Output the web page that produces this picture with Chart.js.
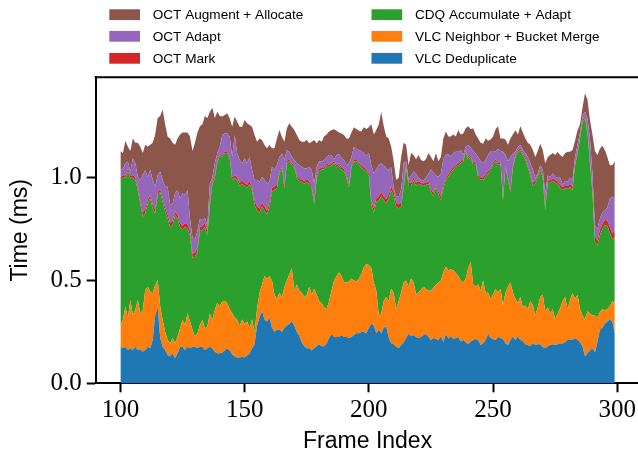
<!DOCTYPE html>
<html>
<head>
<meta charset="utf-8">
<script src="https://cdn.jsdelivr.net/npm/chart.js@4.4.1/dist/chart.umd.min.js"></script>
<style>
  html, body { margin: 0; padding: 0; background: #fff; overflow: hidden; }
  #wrap { position: relative; width: 646px; height: 461px; }
</style>
</head>
<body>
<div id="wrap"><canvas id="stackChart"></canvas></div>
<script>
// frame indices 100..299
const frames = [];
for (let f = 100; f < 300; f++) frames.push(f);

const seriesNames = [
    'VLC Deduplicate',
    'VLC Neighbor + Bucket Merge',
    'CDQ Accumulate + Adapt',
    'OCT Mark',
    'OCT Adapt',
    'OCT Augment + Allocate'
];
const seriesColors = ['#1f77b4', '#ff7f0e', '#2ca02c', '#d62728', '#9467bd', '#8c564b'];

const xTickValues = [100, 150, 200, 250, 300];
const yTickValues = [0, 0.5, 1.0];

// times in ms, one value per frame
const vlcDedup = [
    0.178, 0.17, 0.178, 0.162, 0.17, 0.162, 0.178, 0.162, 0.165, 0.154,
    0.162, 0.178, 0.17, 0.21, 0.33, 0.37, 0.22, 0.178, 0.162, 0.138,
    0.13, 0.146, 0.122, 0.146, 0.178, 0.178, 0.162, 0.178, 0.17, 0.178,
    0.178, 0.17, 0.178, 0.178, 0.162, 0.17, 0.178, 0.17, 0.154, 0.146,
    0.146, 0.15, 0.16, 0.17, 0.16, 0.14, 0.13, 0.125, 0.125, 0.13,
    0.125, 0.135, 0.145, 0.17, 0.19, 0.28, 0.32, 0.35, 0.31, 0.30,
    0.32, 0.27, 0.25, 0.26, 0.26, 0.25, 0.27, 0.28, 0.29, 0.30,
    0.28, 0.25, 0.23, 0.20, 0.18, 0.17, 0.17, 0.16, 0.17, 0.18,
    0.19, 0.18, 0.18, 0.195, 0.22, 0.24, 0.225, 0.225, 0.225, 0.235,
    0.225, 0.225, 0.22, 0.225, 0.235, 0.243, 0.243, 0.25, 0.25, 0.243,
    0.27, 0.29, 0.28, 0.243, 0.26, 0.243, 0.27, 0.276, 0.22, 0.195,
    0.19, 0.178, 0.17, 0.185, 0.20, 0.22, 0.24, 0.23, 0.235, 0.225,
    0.22, 0.225, 0.235, 0.24, 0.225, 0.211, 0.22, 0.215, 0.21, 0.227,
    0.20, 0.24, 0.218, 0.227, 0.215, 0.22, 0.225, 0.203, 0.21, 0.20,
    0.19, 0.203, 0.21, 0.215, 0.21, 0.186, 0.195, 0.21, 0.24, 0.22,
    0.215, 0.21, 0.225, 0.22, 0.215, 0.195, 0.186, 0.21, 0.227, 0.21,
    0.227, 0.21, 0.205, 0.19, 0.186, 0.18, 0.194, 0.186, 0.19, 0.19,
    0.175, 0.17, 0.18, 0.186, 0.19, 0.186, 0.19, 0.194, 0.194, 0.20,
    0.21, 0.21, 0.21, 0.22, 0.21, 0.20, 0.18, 0.13, 0.146, 0.16,
    0.17, 0.15, 0.20, 0.26, 0.27, 0.29, 0.30, 0.31, 0.30, 0.243
];
const vlcNeighbor = [
    0.106, 0.138, 0.195, 0.154, 0.235, 0.17, 0.179, 0.243, 0.175, 0.203,
    0.292, 0.292, 0.276, 0.228, 0.148, 0.132, 0.153, 0.13, 0.088, 0.072,
    0.064, 0.074, 0.072, 0.081, 0.089, 0.13, 0.122, 0.162, 0.13, 0.082,
    0.049, 0.073, 0.106, 0.13, 0.105, 0.106, 0.162, 0.138, 0.203, 0.244,
    0.227, 0.25, 0.24, 0.22, 0.20, 0.20, 0.19, 0.185, 0.155, 0.18,
    0.165, 0.165, 0.125, 0.14, 0.06, 0.08, 0.12, 0.13, 0.21, 0.21,
    0.20, 0.23, 0.18, 0.15, 0.18, 0.17, 0.20, 0.22, 0.24, 0.26,
    0.17, 0.23, 0.22, 0.24, 0.24, 0.26, 0.30, 0.27, 0.29, 0.25,
    0.21, 0.21, 0.19, 0.165, 0.18, 0.21, 0.275, 0.295, 0.315, 0.285,
    0.265, 0.265, 0.275, 0.285, 0.265, 0.252, 0.267, 0.28, 0.315, 0.337,
    0.305, 0.27, 0.21, 0.207, 0.07, 0.097, 0.13, 0.144, 0.18, 0.265,
    0.25, 0.182, 0.23, 0.255, 0.29, 0.28, 0.23, 0.28, 0.255, 0.205,
    0.22, 0.23, 0.235, 0.22, 0.225, 0.239, 0.245, 0.265, 0.28, 0.273,
    0.34, 0.327, 0.332, 0.328, 0.335, 0.315, 0.295, 0.297, 0.28, 0.31,
    0.37, 0.387, 0.27, 0.255, 0.27, 0.264, 0.305, 0.23, 0.20, 0.19,
    0.215, 0.25, 0.215, 0.24, 0.165, 0.245, 0.284, 0.28, 0.213, 0.20,
    0.163, 0.21, 0.165, 0.19, 0.174, 0.22, 0.186, 0.144, 0.18, 0.23,
    0.255, 0.18, 0.19, 0.154, 0.17, 0.124, 0.15, 0.171, 0.206, 0.22,
    0.15, 0.195, 0.23, 0.19, 0.22, 0.16, 0.15, 0.18, 0.204, 0.18,
    0.16, 0.18, 0.12, 0.085, 0.09, 0.065, 0.06, 0.065, 0.10, 0.147
];
const cdqAccumulate = [
    0.706, 0.692, 0.627, 0.714, 0.595, 0.668, 0.633, 0.535, 0.535, 0.453,
    0.372, 0.405, 0.454, 0.412, 0.348, 0.414, 0.557, 0.575, 0.585, 0.592,
    0.566, 0.55, 0.624, 0.573, 0.493, 0.437, 0.476, 0.413, 0.42, 0.35,
    0.388, 0.397, 0.456, 0.437, 0.493, 0.444, 0.52, 0.662, 0.643, 0.68,
    0.737, 0.70, 0.72, 0.73, 0.73, 0.65, 0.68, 0.68, 0.68, 0.66,
    0.67, 0.65, 0.70, 0.63, 0.62, 0.48, 0.39, 0.38, 0.32, 0.31,
    0.34, 0.43, 0.51, 0.54, 0.58, 0.63, 0.48, 0.57, 0.55, 0.50,
    0.60, 0.52, 0.53, 0.54, 0.55, 0.55, 0.50, 0.52, 0.41, 0.57,
    0.63, 0.65, 0.67, 0.70, 0.65, 0.61, 0.57, 0.53, 0.52, 0.52,
    0.54, 0.51, 0.455, 0.54, 0.58, 0.585, 0.55, 0.52, 0.475, 0.45,
    0.435, 0.31, 0.34, 0.43, 0.56, 0.57, 0.49, 0.455, 0.50, 0.48,
    0.47, 0.50, 0.45, 0.42, 0.46, 0.55, 0.49, 0.45, 0.50, 0.53,
    0.53, 0.51, 0.49, 0.505, 0.52, 0.48, 0.445, 0.475, 0.43, 0.39,
    0.41, 0.423, 0.455, 0.47, 0.49, 0.515, 0.54, 0.57, 0.59, 0.615,
    0.525, 0.51, 0.58, 0.60, 0.52, 0.54, 0.49, 0.565, 0.58, 0.625,
    0.635, 0.62, 0.62, 0.61, 0.51, 0.61, 0.52, 0.44, 0.61, 0.69,
    0.736, 0.715, 0.74, 0.71, 0.69, 0.61, 0.58, 0.64, 0.63, 0.62,
    0.57, 0.49, 0.605, 0.635, 0.625, 0.665, 0.63, 0.585, 0.54, 0.53,
    0.585, 0.55, 0.50, 0.65, 0.685, 0.83, 0.94, 0.98, 0.87, 0.73,
    0.60, 0.36, 0.35, 0.375, 0.39, 0.415, 0.405, 0.355, 0.30, 0.32
];
const octMark = [
    0.012, 0.012, 0.012, 0.012, 0.012, 0.012, 0.012, 0.015, 0.018, 0.02,
    0.02, 0.018, 0.015, 0.018, 0.02, 0.015, 0.015, 0.018, 0.02, 0.02,
    0.02, 0.02, 0.018, 0.018, 0.02, 0.02, 0.02, 0.02, 0.02, 0.02,
    0.02, 0.02, 0.02, 0.02, 0.02, 0.02, 0.018, 0.015, 0.012, 0.01,
    0.008, 0.008, 0.008, 0.008, 0.01, 0.012, 0.012, 0.012, 0.015, 0.015,
    0.015, 0.015, 0.015, 0.015, 0.018, 0.02, 0.02, 0.02, 0.02, 0.02,
    0.02, 0.018, 0.018, 0.015, 0.012, 0.012, 0.015, 0.01, 0.01, 0.01,
    0.01, 0.012, 0.012, 0.012, 0.012, 0.012, 0.012, 0.012, 0.018, 0.012,
    0.012, 0.01, 0.01, 0.01, 0.01, 0.01, 0.01, 0.01, 0.01, 0.012,
    0.012, 0.012, 0.015, 0.01, 0.01, 0.01, 0.01, 0.01, 0.01, 0.01,
    0.012, 0.02, 0.02, 0.02, 0.02, 0.02, 0.02, 0.02, 0.02, 0.018,
    0.02, 0.02, 0.02, 0.02, 0.015, 0.01, 0.015, 0.015, 0.012, 0.015,
    0.012, 0.012, 0.012, 0.012, 0.012, 0.015, 0.015, 0.012, 0.015, 0.018,
    0.015, 0.012, 0.012, 0.012, 0.01, 0.01, 0.01, 0.01, 0.01, 0.008,
    0.01, 0.01, 0.01, 0.01, 0.012, 0.012, 0.012, 0.012, 0.012, 0.01,
    0.01, 0.01, 0.01, 0.01, 0.015, 0.01, 0.012, 0.015, 0.01, 0.01,
    0.008, 0.008, 0.008, 0.01, 0.01, 0.012, 0.015, 0.015, 0.012, 0.01,
    0.012, 0.02, 0.012, 0.012, 0.012, 0.012, 0.012, 0.015, 0.015, 0.015,
    0.015, 0.015, 0.015, 0.01, 0.01, 0.01, 0.01, 0.008, 0.01, 0.015,
    0.02, 0.025, 0.025, 0.025, 0.025, 0.025, 0.025, 0.03, 0.03, 0.03
];
const octAdapt = [
    0.038, 0.033, 0.058, 0.036, 0.018, 0.082, 0.068, 0.05, 0.096, 0.183,
    0.191, 0.112, 0.122, 0.121, 0.11, 0.082, 0.085, 0.088, 0.101, 0.134,
    0.087, 0.085, 0.088, 0.122, 0.12, 0.159, 0.136, 0.167, 0.06, 0.08,
    0.065, 0.08, 0.04, 0.029, 0.022, 0.03, 0.092, 0.015, 0.058, 0.04,
    0.032, 0.099, 0.087, 0.087, 0.099, 0.098, 0.195, 0.116, 0.111, 0.085,
    0.119, 0.105, 0.115, 0.082, 0.101, 0.129, 0.13, 0.125, 0.129, 0.132,
    0.10, 0.105, 0.079, 0.097, 0.068, 0.056, 0.121, 0.054, 0.036, 0.03,
    0.026, 0.058, 0.07, 0.061, 0.063, 0.053, 0.071, 0.075, 0.084, 0.041,
    0.036, 0.028, 0.036, 0.03, 0.05, 0.04, 0.01, 0.05, 0.045, 0.043,
    0.044, 0.048, 0.105, 0.04, 0.06, 0.05, 0.065, 0.07, 0.07, 0.065,
    0.098, 0.17, 0.17, 0.14, 0.15, 0.14, 0.15, 0.15, 0.12, 0.092,
    0.02, 0.03, 0.04, 0.06, 0.105, 0.02, 0.015, 0.035, 0.028, 0.045,
    0.018, 0.013, 0.013, 0.023, 0.038, 0.095, 0.10, 0.043, 0.07, 0.112,
    0.125, 0.108, 0.098, 0.063, 0.07, 0.066, 0.056, 0.055, 0.02, 0.017,
    0.065, 0.035, 0.06, 0.038, 0.088, 0.078, 0.068, 0.069, 0.078, 0.085,
    0.055, 0.036, 0.07, 0.05, 0.221, 0.05, 0.078, 0.155, 0.055, 0.016,
    0.016, 0.017, 0.017, 0.02, 0.04, 0.048, 0.065, 0.015, 0.008, 0.01,
    0.028, 0.06, 0.023, 0.018, 0.023, 0.018, 0.018, 0.035, 0.01, 0.02,
    0.02, 0.03, 0.035, 0.03, 0.035, 0.02, 0.02, 0.022, 0.06, 0.105,
    0.07, 0.055, 0.055, 0.055, 0.055, 0.045, 0.065, 0.14, 0.175, 0.16
];
const octAugment = [
    0.09, 0.075, 0.11, 0.072, 0.10, 0.096, 0.10, 0.165, 0.161, 0.107,
    0.123, 0.145, 0.123, 0.181, 0.254, 0.277, 0.27, 0.341, 0.304, 0.244,
    0.323, 0.295, 0.236, 0.25, 0.31, 0.296, 0.304, 0.28, 0.40, 0.42,
    0.47, 0.48, 0.45, 0.466, 0.498, 0.52, 0.35, 0.34, 0.22, 0.20,
    0.15, 0.09, 0.09, 0.098, 0.089, 0.148, 0.09, 0.154, 0.162, 0.178,
    0.186, 0.194, 0.156, 0.211, 0.218, 0.186, 0.211, 0.178, 0.17, 0.171,
    0.179, 0.09, 0.106, 0.129, 0.132, 0.081, 0.089, 0.106, 0.138, 0.148,
    0.146, 0.137, 0.121, 0.122, 0.13, 0.138, 0.114, 0.138, 0.211, 0.114,
    0.105, 0.097, 0.114, 0.11, 0.115, 0.122, 0.145, 0.118, 0.105, 0.12,
    0.121, 0.13, 0.12, 0.12, 0.095, 0.096, 0.093, 0.094, 0.125, 0.131,
    0.125, 0.20, 0.19, 0.192, 0.20, 0.25, 0.19, 0.155, 0.15, 0.10,
    0.13, 0.08, 0.09, 0.16, 0.10, 0.08, 0.07, 0.11, 0.08, 0.07,
    0.11, 0.096, 0.095, 0.09, 0.10, 0.06, 0.055, 0.11, 0.075, 0.08,
    0.10, 0.114, 0.085, 0.10, 0.09, 0.074, 0.104, 0.075, 0.105, 0.09,
    0.09, 0.09, 0.11, 0.092, 0.09, 0.09, 0.095, 0.104, 0.07, 0.055,
    0.07, 0.109, 0.11, 0.06, 0.064, 0.075, 0.08, 0.09, 0.095, 0.104,
    0.06, 0.09, 0.085, 0.07, 0.07, 0.09, 0.095, 0.10, 0.11, 0.105,
    0.095, 0.15, 0.09, 0.105, 0.10, 0.105, 0.125, 0.11, 0.135, 0.135,
    0.146, 0.126, 0.145, 0.08, 0.07, 0.04, 0.04, 0.09, 0.09, 0.09,
    0.19, 0.36, 0.36, 0.34, 0.325, 0.295, 0.245, 0.16, 0.155, 0.18
];

const seriesValues = [vlcDedup, vlcNeighbor, cdqAccumulate, octMark, octAdapt, octAugment];

const datasets = seriesValues.map((vals, i) => ({
    label: seriesNames[i],
    data: vals.map((v, j) => ({ x: frames[j], y: v })),
    backgroundColor: seriesColors[i],
    borderColor: 'rgba(0,0,0,0)',
    borderWidth: 0,
    pointRadius: 0,
    fill: i === 0 ? 'origin' : '-1'
}));

// matplotlib-style two column legend plus the top spine
const legendColumns = [[5, 4, 3], [2, 1, 0]];
const frameAndLegend = {
    id: 'frameAndLegend',
    afterDraw(chart) {
        const ctx = chart.ctx;
        const area = chart.chartArea;
        ctx.save();
        ctx.strokeStyle = '#000';
        ctx.lineWidth = 2;
        ctx.beginPath();
        ctx.moveTo(area.left - 1, area.top);
        ctx.lineTo(area.right + 1, area.top);
        ctx.lineTo(area.right, area.bottom);
        ctx.stroke();

        const colX = [109.3, 371.5];
        const rowY = [14.7, 36.3, 58.3];
        ctx.font = '13.6px "Liberation Sans", Arial, sans-serif';
        ctx.textBaseline = 'middle';
        ctx.fillStyle = '#000';
        legendColumns.forEach((col, c) => {
            col.forEach((idx, r) => {
                ctx.fillStyle = seriesColors[idx];
                ctx.fillRect(colX[c], rowY[r] - 5.4, 30.7, 10.8);
                ctx.fillStyle = '#000';
                ctx.fillText(seriesNames[idx], colX[c] + 43.4, rowY[r] + 0.5);
            });
        });
        ctx.restore();
    }
};

const tickFont = { family: '"Liberation Serif", "Times New Roman", serif', size: 25 };
const titleFont = { family: '"Liberation Sans", Arial, sans-serif', size: 23 };

new Chart(document.getElementById('stackChart'), {
    type: 'line',
    data: { datasets: datasets },
    options: {
        responsive: true,
        maintainAspectRatio: false,
        animation: false,
        devicePixelRatio: 1,
        layout: { padding: { left: 0, right: 6.5, top: 77.3, bottom: 0 } },
        plugins: {
            legend: { display: false },
            tooltip: { enabled: false }
        },
        elements: { line: { tension: 0 } },
        scales: {
            x: {
                type: 'linear',
                min: 90.05,
                max: 308.95,
                afterBuildTicks: scale => { scale.ticks = xTickValues.map(v => ({ value: v })); },
                afterFit: scale => { scale.height = 77.7; },
                ticks: { color: '#000', font: tickFont, padding: 3.5, maxRotation: 0 },
                grid: { drawOnChartArea: false, drawTicks: true, tickLength: 9, tickWidth: 2, tickColor: '#000' },
                border: { display: true, color: '#000', width: 2 },
                title: { display: true, text: 'Frame Index', color: '#000', font: titleFont, padding: { top: 0, bottom: 6 } }
            },
            y: {
                stacked: true,
                min: 0,
                max: 1.488,
                afterBuildTicks: scale => { scale.ticks = yTickValues.map(v => ({ value: v })); },
                afterFit: scale => { scale.width = 95.7; },
                ticks: { color: '#000', font: tickFont, padding: 5, callback: v => v.toFixed(1) },
                grid: { drawOnChartArea: false, drawTicks: true, tickLength: 9, tickWidth: 2, tickColor: '#000' },
                border: { display: true, color: '#000', width: 2 },
                title: { display: true, text: 'Time (ms)', color: '#000', font: titleFont, padding: { top: 7, bottom: 0 } }
            }
        }
    },
    plugins: [frameAndLegend]
});
</script>
</body>
</html>
